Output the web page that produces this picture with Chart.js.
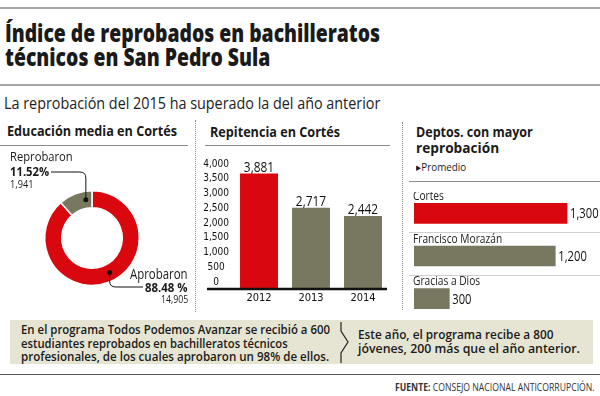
<!DOCTYPE html>
<html>
<head>
<meta charset="utf-8">
<script src="https://cdn.jsdelivr.net/npm/chart.js@4.4.1/dist/chart.umd.min.js"></script>
<style>
body{margin:0;background:#fff;}
#page{position:relative;width:600px;height:396px;overflow:hidden;font-family:"Open Sans",sans-serif;color:#1a1a1a;}
.t{position:absolute;white-space:nowrap;}
.hl{position:absolute;height:0;border-top:1px solid #8c8c8c;}
.vl{position:absolute;width:0;border-left:1px dotted #8a8a8a;}
canvas{position:absolute;}
</style>
</head>
<body>
<div id="page">
  <div class="hl" style="left:0;top:7px;width:600px;border-top:2px solid #a5a5a5"></div>
  <div class="hl" style="left:0;top:84px;width:600px;border-top:2px solid #a5a5a5"></div>
  <div class="hl" style="left:0;top:145px;width:188px"></div>
  <div class="hl" style="left:205px;top:145px;width:185px"></div>
  <div class="hl" style="left:409px;top:181px;width:191px"></div>
  <div class="vl" style="left:195px;top:120px;height:192px"></div>
  <div class="vl" style="left:402px;top:122px;height:188px"></div>
  <div style="position:absolute;left:10px;top:320px;width:583px;height:44px;background:#e6e4d3"></div>
  <svg style="position:absolute;left:335px;top:320px" width="16" height="45">
    <path d="M6 2 L6 11 L13 22 L6 33 L6 43" stroke="#222" stroke-width="1.2" fill="none"/>
  </svg>
  <div class="hl" style="left:0;top:374px;width:600px;border-top:1.5px solid #555"></div>
  <canvas id="donut" width="195" height="165" style="left:0;top:150px"></canvas>
  <canvas id="bars" width="195" height="160" style="left:200px;top:150px"></canvas>
  <canvas id="hbars" width="195" height="128" style="left:405px;top:192px"></canvas>
</div>
<script>
// datos
const donutLabels = ['Aprobaron', 'Reprobaron'];
const donutPercent = [88.48, 11.52];
const donutCount = [14905, 1941];

const years = ['2012', '2013', '2014'];
const repitencia = [3881, 2717, 2442];

const deptos = ['Cortés', 'Francisco Morazán', 'Gracias a Dios'];
const promedio = [1300, 1200, 300];

const red = '#d9080f';
const olive = '#78775f';
const narrow = '"Liberation Sans Narrow", "DejaVu Sans Condensed", sans-serif';

const page = document.getElementById('page');
const fmt = n => n.toLocaleString('en-US');

// texto html, ajustado al ancho del original
function txt(s, x, y, size, opts) {
    opts = opts || {};
    const d = document.createElement('div');
    d.className = 't';
    d.innerHTML = s;
    d.style.fontSize = size + 'px';
    d.style.lineHeight = size + 'px';
    d.style.fontWeight = opts.weight || 400;
    d.style.top = (y - 0.53 * size) + 'px';
    if (opts.color) d.style.color = opts.color;
    page.appendChild(d);
    const w = d.offsetWidth;
    const k = opts.w ? opts.w / w : 1;
    if (opts.right) {
        d.style.left = (x - w) + 'px';
        d.style.transformOrigin = 'right center';
    } else {
        d.style.left = x + 'px';
        d.style.transformOrigin = 'left center';
    }
    d.style.transform = 'scaleX(' + k + ')';
}

function condText(ctx, s, x, y, k, align) {
    ctx.save();
    ctx.translate(x, y);
    ctx.scale(k, 1);
    ctx.textAlign = align;
    ctx.fillText(s, 0, 0);
    ctx.restore();
}

txt('Índice de reprobados en bachilleratos', 5, 33, 25, {weight: 800, w: 375});
txt('técnicos en San Pedro Sula', 5, 57, 25, {weight: 800, w: 265});
txt('La reprobación del 2015 ha superado la del año anterior', 4, 103, 16, {w: 376, color: '#222'});

txt('Educación media en Cortés', 7, 131.5, 14, {weight: 700, w: 170});
txt('Repitencia en Cortés', 210, 132, 14, {weight: 700, w: 130});
txt('Deptos. con mayor', 416, 132, 14, {weight: 700, w: 117});
txt('reprobación', 416, 148, 14, {weight: 700, w: 83});
txt('▸Promedio', 416, 167, 11, {w: 50});

txt(donutLabels[1], 10, 157, 13, {w: 63});
txt(donutPercent[1].toFixed(2) + '%', 10, 172, 13, {weight: 700, w: 39});
txt(fmt(donutCount[1]), 10, 184, 10, {w: 23});
txt(donutLabels[0], 188, 274, 14, {right: true, w: 58});
txt(donutPercent[0].toFixed(2) + ' %', 188, 288, 13, {weight: 700, right: true, w: 43});
txt(fmt(donutCount[0]), 188, 299.5, 10, {right: true, w: 27});

txt('En el programa Todos Podemos Avanzar se recibió a 600', 21, 330, 13, {weight: 600, w: 309});
txt('estudiantes reprobados en bachilleratos técnicos', 21, 343.5, 13, {weight: 600, w: 267});
txt('profesionales, de los cuales aprobaron un 98% de ellos.', 21, 357, 13, {weight: 600, w: 308});
txt('Este año, el programa recibe a 800', 358, 335, 13, {weight: 600, w: 195});
txt('jóvenes, 200 más que el año anterior.', 358, 349, 13, {weight: 600, w: 222});
txt('<b>FUENTE:</b> CONSEJO NACIONAL ANTICORRUPCIÓN.', 595, 387, 10, {right: true, w: 200, color: '#333'});

// dona
const donutLeaders = {
    id: 'leaders',
    afterDraw(chart) {
        const ctx = chart.ctx;
        const arcs = chart.getDatasetMeta(0).data;
        const at = [0.48, 0.78];
        const pts = arcs.map((a, i) => {
            const ang = a.startAngle + (a.endAngle - a.startAngle) * at[i];
            const r = (a.innerRadius + a.outerRadius) / 2;
            return {x: a.x + Math.cos(ang) * r, y: a.y + Math.sin(ang) * r};
        });
        ctx.save();
        ctx.strokeStyle = '#111';
        ctx.fillStyle = '#111';
        ctx.lineWidth = 1;
        let p = pts[0];
        ctx.beginPath();
        ctx.moveTo(p.x, p.y);
        ctx.lineTo(p.x, 131);
        ctx.quadraticCurveTo(p.x, 137, p.x + 6, 137);
        ctx.lineTo(143, 137);
        ctx.stroke();
        p = pts[1];
        ctx.beginPath();
        ctx.moveTo(51, 22);
        ctx.lineTo(p.x - 6, 22);
        ctx.quadraticCurveTo(p.x, 22, p.x, 28);
        ctx.lineTo(p.x, p.y);
        ctx.stroke();
        pts.forEach(q => {
            ctx.beginPath();
            ctx.arc(q.x, q.y, 2.5, 0, Math.PI * 2);
            ctx.fill();
        });
        ctx.restore();
    }
};

new Chart(document.getElementById('donut'), {
    type: 'doughnut',
    data: {
        labels: donutLabels,
        datasets: [{
            data: donutPercent,
            backgroundColor: [red, olive],
            borderColor: '#fff',
            borderWidth: 1.5
        }]
    },
    options: {
        responsive: false,
        animation: false,
        cutout: '64%',
        layout: {padding: {left: 44, right: 55, top: 40, bottom: 29}},
        plugins: {legend: {display: false}, tooltip: {enabled: false}}
    },
    plugins: [donutLeaders]
});

// repitencia
const barValues = {
    id: 'barValues',
    afterDatasetsDraw(chart) {
        const ctx = chart.ctx;
        const meta = chart.getDatasetMeta(0);
        ctx.save();
        ctx.fillStyle = '#111';
        ctx.font = '500 14px "Open Sans"';
        ctx.textBaseline = 'alphabetic';
        meta.data.forEach((b, i) => condText(ctx, fmt(repitencia[i]), b.x, b.y - 2, 0.85, 'center'));
        const y0 = chart.scales.y.getPixelForValue(0);
        ctx.strokeStyle = '#111';
        ctx.lineWidth = 2.5;
        ctx.beginPath();
        ctx.moveTo(chart.chartArea.left - 26, y0 + 1);
        ctx.lineTo(chart.chartArea.right - 2, y0 + 1);
        ctx.stroke();
        ctx.restore();
    }
};

new Chart(document.getElementById('bars'), {
    type: 'bar',
    data: {
        labels: years,
        datasets: [{
            data: repitencia,
            backgroundColor: [red, olive, olive],
            barPercentage: 0.73,
            categoryPercentage: 1
        }]
    },
    options: {
        responsive: false,
        animation: false,
        layout: {padding: {top: 20, right: 6, left: 0, bottom: 0}},
        scales: {
            x: {
                grid: {display: false, drawTicks: false},
                border: {display: false},
                ticks: {color: '#111', font: {family: narrow, size: 11}, padding: 4},
                afterFit(s) { s.height = 22; }
            },
            y: {
                min: 0,
                max: 4000,
                grid: {display: false, drawTicks: false},
                border: {display: false},
                ticks: {
                    stepSize: 500,
                    autoSkip: false,
                    crossAlign: 'center',
                    padding: 4,
                    labelOffset: -6,
                    color: '#111',
                    font: {family: narrow, size: 10},
                    callback: v => fmt(v)
                },
                afterFit(s) { s.width = 33; }
            }
        },
        plugins: {legend: {display: false}, tooltip: {enabled: false}}
    },
    plugins: [barValues]
});

// deptos
const hbarLabels = {
    id: 'hbarLabels',
    afterDatasetsDraw(chart) {
        const ctx = chart.ctx;
        const bars = chart.getDatasetMeta(0).data;
        const a = chart.chartArea;
        ctx.save();
        bars.forEach((b, i) => {
            ctx.fillStyle = '#222';
            ctx.font = '12px "Open Sans"';
            ctx.textBaseline = 'alphabetic';
            condText(ctx, deptos[i], a.left - 1, b.y - 13.5, 0.85, 'left');
            ctx.fillStyle = '#111';
            ctx.font = '500 14px "Open Sans"';
            ctx.textBaseline = 'middle';
            condText(ctx, fmt(promedio[i]), b.x + 3, b.y + 1, 0.8, 'left');
            if (i < bars.length - 1) {
                ctx.strokeStyle = '#cfcfcf';
                ctx.lineWidth = 1;
                ctx.beginPath();
                ctx.moveTo(4, Math.round(b.y + 19) + 0.5);
                ctx.lineTo(chart.width, Math.round(b.y + 19) + 0.5);
                ctx.stroke();
            }
        });
        ctx.restore();
    }
};

new Chart(document.getElementById('hbars'), {
    type: 'bar',
    data: {
        labels: deptos,
        datasets: [{
            data: promedio,
            backgroundColor: [red, olive, olive],
            barThickness: 20
        }]
    },
    options: {
        indexAxis: 'y',
        responsive: false,
        animation: false,
        layout: {padding: {left: 9}},
        scales: {
            x: {display: false, min: 0, max: 1580},
            y: {display: false}
        },
        plugins: {legend: {display: false}, tooltip: {enabled: false}}
    },
    plugins: [hbarLabels]
});
</script>
</body>
</html>
